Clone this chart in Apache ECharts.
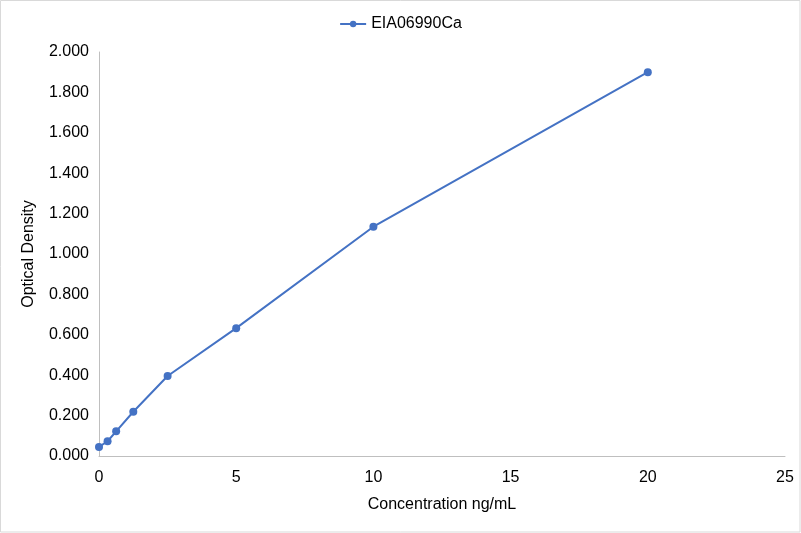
<!DOCTYPE html>
<html lang="en">
<head>
    <meta charset="UTF-8">
    <title>EIA06990Ca</title>
    <script src="https://cdn.jsdelivr.net/npm/echarts@6/dist/echarts.min.js"></script>
    <style>
        html, body { margin: 0; padding: 0; background: #fff; }
    </style>
</head>
<body>
<div id="main" style="width: 801px; height: 533px;"></div>

<script>
    var seriesName = 'EIA06990Ca';
    var concentration = [0, 0.3125, 0.625, 1.25, 2.5, 5, 10, 20];
    var density = [0.045, 0.073, 0.122, 0.219, 0.396, 0.633, 1.135, 1.900];

    var points = [];
    for (var i = 0; i < concentration.length; i++) {
        points.push([concentration[i], density[i]]);
    }

    var myChart = echarts.init(document.getElementById('main'));

    var option = {
        animation: false,
        textStyle: { fontFamily: 'Liberation Sans, Arial, sans-serif' },
        // thin grey frame round the whole chart
        graphic: [{
            type: 'rect',
            shape: { x: 0.5, y: 0.5, width: 799.5, height: 531.5 },
            style: { fill: 'none', stroke: '#d9d9d9', lineWidth: 1 },
            silent: true
        }],
        legend: {
            top: 11,
            left: 'center',
            itemWidth: 26,
            itemHeight: 8,
            itemGap: 10,
            textStyle: { fontSize: 16, color: '#000' },
            data: [seriesName]
        },
        grid: {
            left: 99,
            right: 16,
            top: 52,
            bottom: 77
        },
        xAxis: {
            type: 'value',
            min: 0,
            max: 25,
            interval: 5,
            name: 'Concentration ng/mL',
            nameLocation: 'middle',
            nameGap: 41,
            nameTextStyle: { fontSize: 16, color: '#000' },
            axisLine: { lineStyle: { color: '#bfbfbf' } },
            axisTick: { show: false },
            axisLabel: { fontSize: 16, color: '#000', margin: 14 },
            splitLine: { show: false }
        },
        yAxis: {
            type: 'value',
            min: 0,
            max: 2,
            interval: 0.2,
            name: 'Optical Density',
            nameLocation: 'middle',
            nameGap: 62,
            nameTextStyle: { fontSize: 16, color: '#000' },
            axisLine: { show: true, lineStyle: { color: '#bfbfbf' } },
            axisTick: { show: false },
            axisLabel: {
                fontSize: 16,
                color: '#000',
                margin: 10,
                formatter: function (v) { return v.toFixed(3); }
            },
            splitLine: { show: false }
        },
        series: [
            {
                name: seriesName,
                type: 'line',
                data: points,
                symbol: 'circle',
                symbolSize: 8,
                itemStyle: { color: '#4472c4' },
                lineStyle: { color: '#4472c4', width: 2 }
            }
        ]
    };

    myChart.setOption(option);
</script>
</body>
</html>
